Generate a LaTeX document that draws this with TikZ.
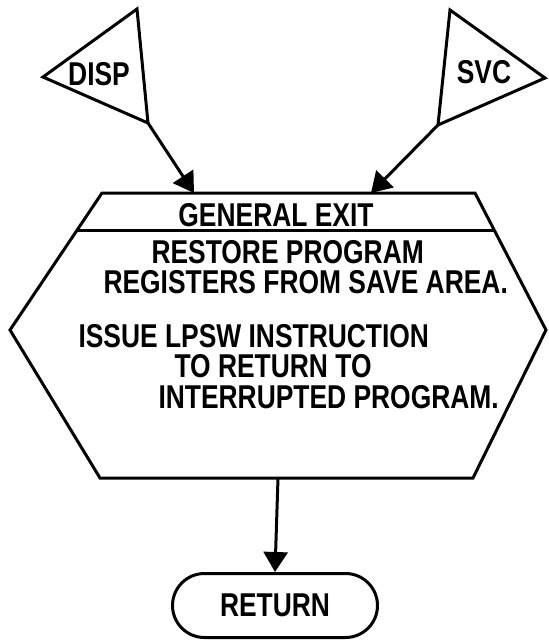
\documentclass[tikz,border=0pt]{standalone}
\usepackage{fontspec}
\newfontfamily\flowfont{Liberation Sans}[FakeStretch=0.8]
\usetikzlibrary{arrows.meta,shapes.misc,calc}

\tikzset{
    lbl/.style={inner sep=0pt, font=\flowfont\bfseries\fontsize{33}{31}\selectfont},
    flow/.style={-{Triangle[width=24pt,length=20pt]}},
}

\begin{document}
\begin{tikzpicture}[x=1pt, y=-1pt, line width=3pt]
    \useasboundingbox (0,0) rectangle (549,641);

    % entry connectors
    \coordinate (dispout) at (148,123);
    \coordinate (svcout) at (438,125);
    \draw (43,77) -- (137,9) -- (dispout) -- cycle;
    \draw (svcout) -- (450,10) -- (545,78) -- cycle;
    \node[lbl, anchor=base] (disp) at (99,85) {DISP};
    \node[lbl, anchor=base] (svc) at (484,83) {SVC};

    % general exit block
    \coordinate (tl) at (102,193);
    \coordinate (tr) at (475,193);
    \coordinate (rv) at (546,330);
    \coordinate (br) at (473,478);
    \coordinate (bl) at (100,478);
    \coordinate (lv) at (10,330);
    \draw (tl) -- (tr) -- (rv) -- (br) -- (bl) -- (lv) -- cycle;
    \draw ($(tl)!0.277!(lv)$) -- ($(tr)!0.277!(rv)$);
    \coordinate (hexin1) at (194,193);
    \coordinate (hexin2) at (371,193);
    \coordinate (hexout) at (278,478);

    \node[lbl, anchor=base] (title) at (276,226) {GENERAL EXIT};
    \node[lbl, anchor=base west] (l1) at (150,263) {RESTORE PROGRAM};
    \node[lbl, anchor=base west] (l2) at (102,293) {REGISTERS FROM SAVE AREA.};
    \node[lbl, anchor=base west] (l3) at (77,347) {ISSUE LPSW INSTRUCTION};
    \node[lbl, anchor=base west] (l4) at (173,377) {TO RETURN TO};
    \node[lbl, anchor=base west] (l5) at (157,408) {INTERRUPTED PROGRAM.};

    % exit
    \node[lbl, draw, rounded rectangle, inner xsep=0pt, minimum width=205pt, minimum height=64pt] (ret) at (275,605.5) {RETURN};

    \draw[flow] (dispout) -- (hexin1);
    \draw[flow] (svcout) -- (hexin2);
    \draw[flow] (hexout) -- (ret.north);
\end{tikzpicture}
\end{document}
